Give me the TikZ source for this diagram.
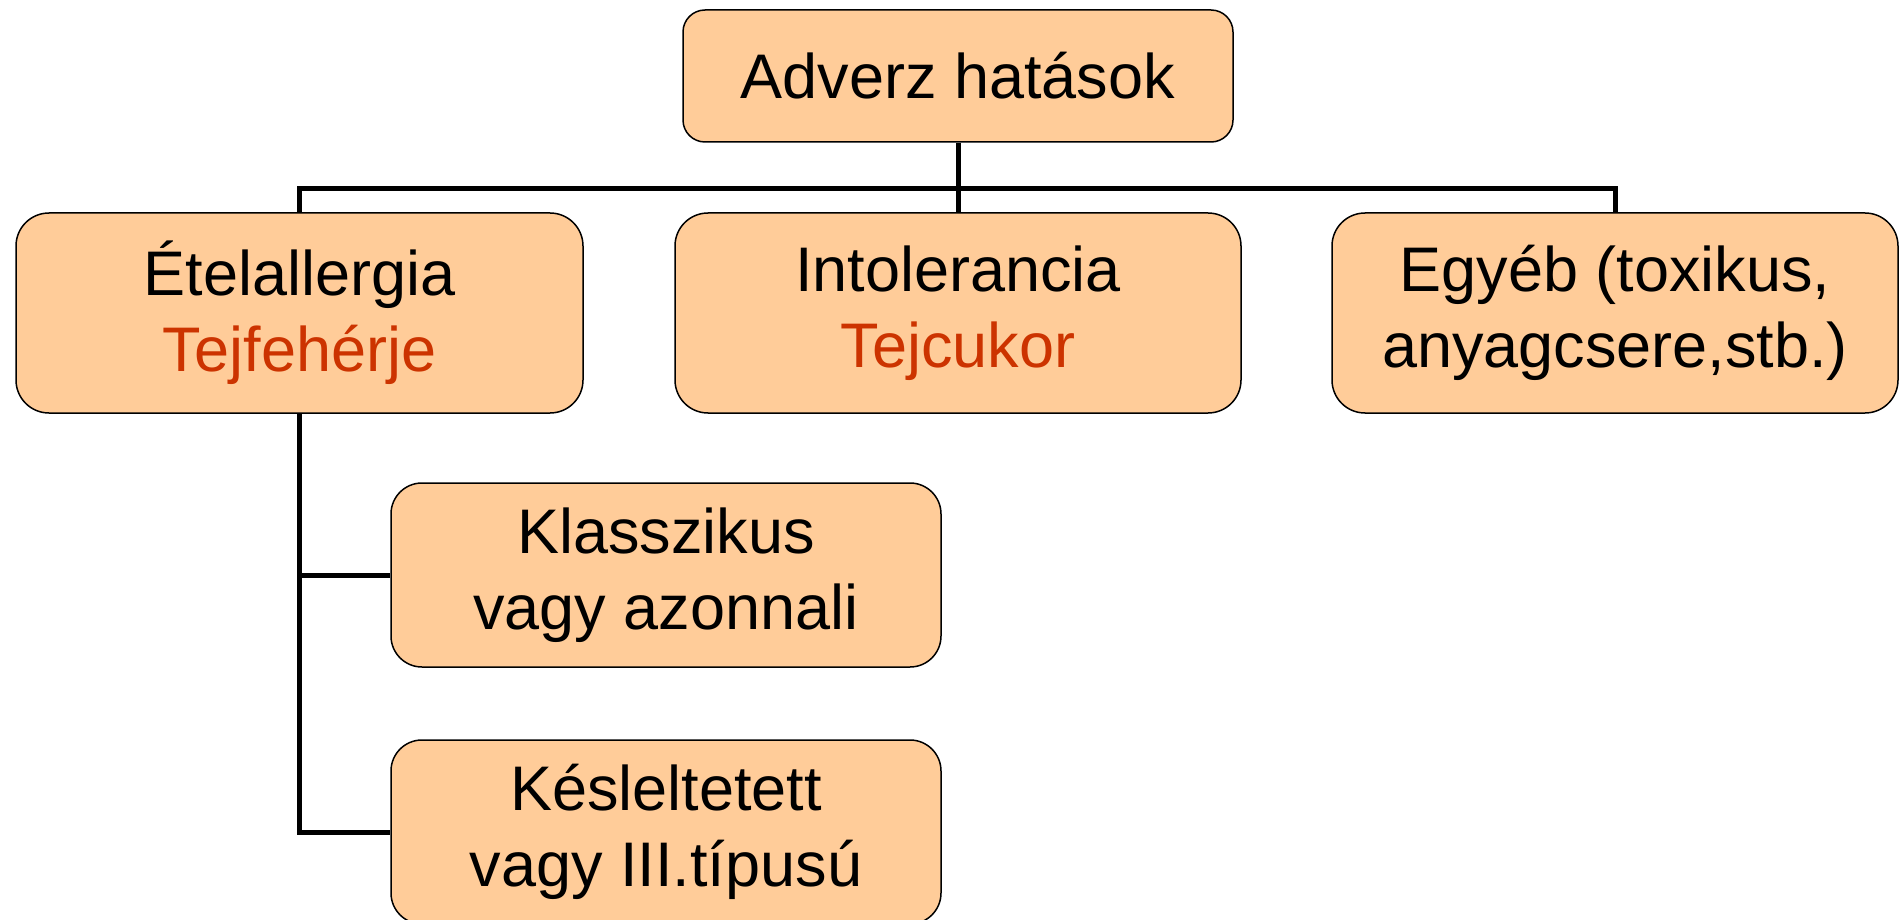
\documentclass[tikz,border=0pt]{standalone}
\usepackage{fontspec}
\setmainfont{Liberation Sans}
\definecolor{boxfill}{RGB}{255,204,153}
\definecolor{redtxt}{RGB}{204,51,0}
\begin{document}
\begin{tikzpicture}[x=1pt,y=-1pt,
  box/.style={draw=black, line width=1.5pt, fill=boxfill, inner sep=0pt, align=center,
    font=\fontsize{63}{76}\selectfont},
  conn/.style={draw=black, line width=5pt}]
\useasboundingbox (0,0) rectangle (1899,920);
\node[box, rounded corners=22pt, minimum width=550pt, minimum height=132pt] (top) at (958,76) {Adverz hatások};
\node[box, rounded corners=33pt, minimum width=567pt, minimum height=200pt] (etel) at (299.5,313) {Ételallergia\\\textcolor{redtxt}{Tejfehérje}};
\node[box, rounded corners=33pt, minimum width=566pt, minimum height=200pt] (inter) at (958,313) {Intolerancia\\\textcolor{redtxt}{Tejcukor}};
\node[box, rounded corners=33pt, minimum width=566pt, minimum height=200pt] (egy) at (1615,313) {Egyéb (toxikus,\\anyagcsere,stb.)};
\node[box, rounded corners=31pt, minimum width=550pt, minimum height=184pt] (klass) at (666,575) {Klasszikus\\vagy azonnali};
\node[box, rounded corners=31pt, minimum width=550pt, minimum height=184pt] (kes) at (666,832) {Késleltetett\\vagy III.típusú};
\coordinate (bus) at (958,189);
\draw[conn] (top.south) -- (inter.north);
\draw[conn] (etel.north) |- (bus) -| (egy.north);
\draw[conn] (etel.south) |- (klass.west);
\draw[conn] (etel.south) |- (kes.west);
\end{tikzpicture}
\end{document}
